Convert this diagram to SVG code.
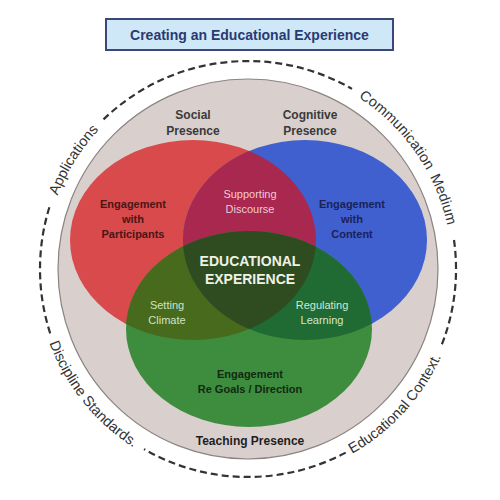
<svg xmlns="http://www.w3.org/2000/svg" width="500" height="500" viewBox="0 0 500 500">
<style>
.t{font-family:"Liberation Sans",Arial,sans-serif;text-anchor:middle}
.b{font-weight:bold}
.ring{font-family:"Liberation Sans",Arial,sans-serif;font-size:14.5px;fill:#333}
.dash{fill:none;stroke:#333;stroke-width:2.2;stroke-dasharray:7 4}
</style>
<defs>
<clipPath id="cr"><ellipse cx="193" cy="240" rx="123" ry="100"/></clipPath>
<clipPath id="cb"><ellipse cx="305" cy="240" rx="122" ry="100"/></clipPath>
<path id="top" d="M44,269 A204,204 0 1 1 452,269 A204,204 0 1 1 44,269"/>
<path id="bot" d="M36,269 A212,212 0 1 0 460,269 A212,212 0 1 0 36,269"/>
</defs>
<rect width="500" height="500" fill="#fff"/>
<g id="title">
<rect x="106" y="19" width="287" height="31" fill="#cfe8f8" stroke="#3b4778" stroke-width="2"/>
<text class="t b" x="249.5" y="40" font-size="14" fill="#2b3a70">Creating an Educational Experience</text>
</g>
<g id="context">
<path class="dash" d="M103.5,119.4 A208,208 0 0 1 352,88.9"/>
<path class="dash" d="M454,240 A208,208 0 0 1 440.9,346.9"/>
<path class="dash" d="M345.7,452.6 A208,208 0 0 1 144,449.1"/>
<path class="dash" d="M50.2,333.3 A208,208 0 0 1 50.2,204.7"/>
<text class="ring"><textPath href="#top" startOffset="8.9%" text-anchor="middle">Applications</textPath></text>
<text class="ring" font-size="15"><textPath href="#top" startOffset="437">Communication</textPath></text>
<text class="ring" font-size="15"><textPath href="#top" startOffset="545">Medium</textPath></text>
<text class="ring"><textPath href="#bot" startOffset="10.8%" text-anchor="middle">Discipline Standards.</textPath></text>
<text class="ring"><textPath href="#bot" startOffset="38.2%" text-anchor="middle">Educational Context.</textPath></text>
</g>
<g id="background">
<circle cx="248" cy="269" r="190" fill="#d9d0cd" stroke="#8a8482" stroke-width="1.2"/>
</g>
<g id="social-presence">
<ellipse cx="193" cy="240" rx="123" ry="100" fill="#d84a4b"/>
</g>
<g id="cognitive-presence">
<ellipse cx="305" cy="240" rx="122" ry="100" fill="#4160cf"/>
<g clip-path="url(#cr)"><ellipse cx="305" cy="240" rx="122" ry="100" fill="#a8284f"/></g>
</g>
<g id="teaching-presence">
<ellipse cx="249" cy="329" rx="123" ry="98" fill="#3e8c3e"/>
<g clip-path="url(#cr)"><ellipse cx="249" cy="329" rx="123" ry="98" fill="#476a1d"/></g>
<g clip-path="url(#cb)"><ellipse cx="249" cy="329" rx="123" ry="98" fill="#1f6b33"/></g>
<g clip-path="url(#cr)"><g clip-path="url(#cb)"><ellipse cx="249" cy="329" rx="123" ry="98" fill="#2f4c21"/></g></g>
</g>
<g id="labels">
<text class="t b" font-size="12" fill="#3a3a3a"><tspan x="193" y="119">Social</tspan><tspan x="193" y="135">Presence</tspan></text>
<text class="t b" font-size="12" fill="#3a3a3a"><tspan x="310" y="119">Cognitive</tspan><tspan x="310" y="135">Presence</tspan></text>
<text class="t b" font-size="11" fill="#4a1616"><tspan x="133" y="208">Engagement</tspan><tspan x="133" y="223">with</tspan><tspan x="133" y="238">Participants</tspan></text>
<text class="t b" font-size="11" fill="#1a2258"><tspan x="352" y="208">Engagement</tspan><tspan x="352" y="223">with</tspan><tspan x="352" y="238">Content</tspan></text>
<text class="t" font-size="11" fill="#f2c8d8"><tspan x="250" y="198">Supporting</tspan><tspan x="250" y="213">Discourse</tspan></text>
<text class="t b" font-size="14" fill="#eef2e6"><tspan x="250" y="266">EDUCATIONAL</tspan><tspan x="250" y="284">EXPERIENCE</tspan></text>
<text class="t" font-size="11" fill="#cfe4c6"><tspan x="167" y="309">Setting</tspan><tspan x="167" y="324">Climate</tspan></text>
<text class="t" font-size="11" fill="#cfe8d2"><tspan x="322" y="309">Regulating</tspan><tspan x="322" y="324">Learning</tspan></text>
<text class="t b" font-size="11" fill="#102a12"><tspan x="250" y="378">Engagement</tspan><tspan x="250" y="393">Re Goals / Direction</tspan></text>
<text class="t b" font-size="12" fill="#1e1e1e" x="250" y="445">Teaching Presence</text>
</g>
</svg>
